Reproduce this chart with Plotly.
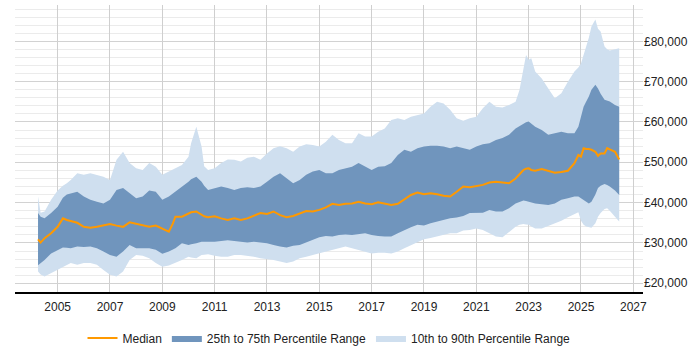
import plotly.graph_objects as go

years = [2004.25, 2004.35, 2004.5, 2004.75, 2005.0, 2005.2, 2005.35, 2005.5, 2005.75,
         2006.0, 2006.25, 2006.5, 2006.75, 2007.0, 2007.25, 2007.5, 2007.75,
         2008.0, 2008.25, 2008.5, 2008.75, 2009.0, 2009.25, 2009.4, 2009.5, 2009.75,
         2010.0, 2010.1, 2010.3, 2010.5, 2010.6, 2010.75,
         2011.0, 2011.25, 2011.5, 2011.75, 2012.0, 2012.25, 2012.5, 2012.75,
         2013.0, 2013.25, 2013.5, 2013.75, 2014.0, 2014.25, 2014.5, 2014.75,
         2015.0, 2015.25, 2015.5, 2015.75, 2016.0, 2016.25, 2016.5, 2016.75,
         2017.0, 2017.25, 2017.5, 2017.75, 2018.0, 2018.25, 2018.5, 2018.75,
         2019.0, 2019.25, 2019.5, 2019.75, 2020.0, 2020.25, 2020.5, 2020.75,
         2021.0, 2021.25, 2021.5, 2021.75, 2022.0, 2022.25, 2022.5, 2022.65,
         2022.8, 2022.9, 2023.0, 2023.1, 2023.25, 2023.5, 2023.75,
         2024.0, 2024.25, 2024.5, 2024.75, 2024.9, 2025.0, 2025.1, 2025.2,
         2025.3, 2025.4, 2025.55, 2025.65, 2025.75, 2025.9, 2026.0, 2026.1,
         2026.3, 2026.46]

p90 = [41.5, 37.5, 37.8, 40.7, 43.0, 44.2, 44.8, 45.6, 47.3,
       46.9, 47.3, 46.9, 46.4, 45.6, 50.6, 52.6, 49.8,
       48.5, 48.1, 49.8, 48.9, 46.9, 47.7, 48.3, 48.5, 49.3,
       51.4, 54.7, 58.8, 53.9, 49.0, 48.1,
       48.5, 49.8, 50.7, 50.6, 50.2, 51.1, 51.4, 50.6,
       52.2, 53.5, 54.0, 53.5, 52.6, 53.9, 54.5, 54.3,
       53.9, 55.1, 56.8, 55.5, 54.7, 54.7, 57.2, 56.4,
       56.4, 57.6, 58.4, 60.5, 60.9, 60.5, 61.3, 61.7,
       62.1, 63.8, 65.0, 64.6, 63.0, 60.9, 60.3, 60.9,
       61.3, 63.4, 65.0, 63.8, 63.6, 64.2, 65.0, 67.9,
       73.7, 76.6, 75.4, 75.8, 72.5, 70.8, 68.3,
       65.9, 67.1, 70.0, 72.5, 73.5, 74.5, 76.5, 78.7,
       80.9, 83.7, 85.4, 83.1, 82.4, 78.7, 78.0, 77.7,
       78.0, 78.3]

p75 = [37.4, 36.5, 36.1, 37.4, 39.0, 41.2, 42.0, 42.3, 42.7,
       41.5, 40.7, 40.2, 39.8, 40.7, 43.1, 43.6, 42.3,
       41.1, 41.5, 43.0, 42.7, 40.7, 41.5, 42.2, 42.7, 44.0,
       45.2, 45.8, 46.4, 45.2, 44.2, 43.1,
       43.6, 44.0, 43.6, 43.1, 43.6, 43.8, 43.6, 44.0,
       45.2, 46.4, 47.3, 46.0, 44.8, 45.6, 46.9, 47.7,
       48.1, 47.3, 47.3, 48.1, 48.5, 48.9, 49.8, 49.0,
       48.1, 48.9, 49.0, 49.8, 51.8, 53.1, 52.6, 53.5,
       53.9, 54.1, 54.1, 53.9, 53.5, 53.9, 53.5, 53.1,
       53.9, 54.5, 54.7, 55.5, 56.0, 56.8, 58.4, 59.0,
       59.6, 59.9, 60.1, 59.6, 58.8, 58.0, 56.8,
       57.2, 57.6, 57.2, 57.2, 58.8, 61.3, 63.8, 65.1,
       66.3, 68.0, 69.2, 68.3, 67.0, 65.5, 65.3, 65.1,
       64.2, 63.8]

median = [30.9, 30.1, 31.2, 32.4, 34.0, 36.1, 35.7, 35.5, 35.0,
          34.0, 33.8, 34.0, 34.3, 34.7, 34.3, 34.0, 35.1,
          34.7, 34.3, 34.0, 34.3, 33.6, 32.8, 34.8, 36.5, 36.5,
          37.4, 37.6, 37.8, 36.9, 36.6, 36.4,
          36.6, 36.1, 35.7, 36.1, 35.7, 36.1, 36.7, 37.4,
          37.2, 37.8, 36.9, 36.4, 36.7, 37.4, 37.9, 37.8,
          38.2, 38.8, 39.7, 39.4, 39.7, 39.8, 40.2, 39.8,
          39.6, 40.1, 39.7, 39.4, 39.7, 40.7, 41.9, 42.5,
          42.1, 42.3, 42.1, 41.7, 41.5, 42.7, 44.0, 43.8,
          44.1, 44.4, 45.0, 45.2, 45.0, 44.8, 46.0, 47.0,
          48.1, 48.4, 48.5, 48.1, 47.9, 48.3, 47.9,
          47.4, 47.6, 47.9, 49.8, 51.8, 51.4, 53.5, 53.3,
          53.3, 53.1, 52.6, 51.6, 52.2, 52.2, 53.5, 53.2,
          52.6, 50.7]

p25 = [24.5, 25.0, 25.8, 27.4, 28.3, 28.9, 28.8, 28.7, 29.1,
       29.0, 29.1, 28.7, 27.9, 27.0, 26.6, 27.9, 29.5,
       28.7, 28.7, 28.7, 28.3, 27.3, 27.9, 28.4, 28.7, 29.9,
       29.5, 29.7, 29.9, 30.3, 30.3, 30.3,
       30.3, 30.5, 30.7, 30.5, 30.3, 30.1, 30.3, 30.1,
       29.9, 29.5, 29.1, 28.9, 29.3, 29.5, 30.2, 30.9,
       31.4, 31.7, 31.6, 32.0, 32.1, 32.0, 32.2, 32.4,
       32.0, 31.7, 31.6, 31.6, 32.4, 33.2, 33.9, 34.5,
       34.3, 34.9, 35.3, 35.7, 36.1, 36.3, 36.7, 37.4,
       37.4, 37.5, 38.2, 37.8, 37.8, 38.6, 39.8, 40.2,
       40.5, 40.4, 40.2, 40.0, 39.8, 39.6, 39.4,
       39.8, 40.7, 41.1, 41.5, 41.5, 41.1, 40.7, 40.2,
       39.8, 40.2, 42.0, 43.6, 44.2, 44.6, 44.4, 44.0,
       43.0, 41.9]

p10 = [22.9, 22.2, 21.7, 22.5, 23.3, 24.0, 24.4, 25.0, 24.6,
       25.0, 25.0, 24.6, 23.3, 22.1, 21.7, 22.9, 25.8,
       27.0, 26.8, 26.2, 25.0, 24.1, 24.4, 24.8, 25.0, 25.8,
       26.6, 26.4, 26.2, 27.0, 27.1, 27.2,
       26.8, 26.6, 26.6, 27.0, 27.0, 26.8, 26.6, 26.2,
       26.0, 25.8, 25.4, 25.0, 25.4, 26.2, 26.6, 27.0,
       27.4, 27.9, 28.3, 28.7, 29.1, 28.7, 28.3, 27.9,
       27.4, 27.6, 27.6, 27.4, 27.9, 28.7, 29.5, 30.3,
       30.9, 31.2, 31.6, 32.0, 32.4, 32.4, 33.1, 33.2,
       33.6, 33.2, 32.4, 31.6, 31.4, 32.8, 34.0, 34.5,
       34.7, 34.6, 34.5, 34.1, 33.6, 33.6, 34.2,
       34.9, 35.5, 36.4, 37.2, 37.6, 35.5, 34.5, 34.1,
       34.0, 33.8, 34.9, 36.5, 37.4, 38.4, 38.6, 38.0,
       36.5, 35.3]

tick_years = [2005, 2007, 2009, 2011, 2013, 2015, 2017, 2019, 2021, 2023, 2025, 2027]

K = 1000
light = "rgb(207,223,239)"
dark = "rgb(112,149,189)"
orange = "rgb(255,153,0)"

fig = go.Figure()
fig.add_trace(go.Scatter(x=years, y=[v * K for v in p10], mode="lines",
                         line=dict(width=0, color=light), showlegend=False,
                         hoverinfo="skip"))
fig.add_trace(go.Scatter(x=years, y=[v * K for v in p90], mode="lines",
                         line=dict(width=0, color=light), fill="tonexty",
                         fillcolor=light, name="10th to 90th Percentile Range",
                         legendrank=3))
fig.add_trace(go.Scatter(x=years, y=[v * K for v in p25], mode="lines",
                         line=dict(width=0, color=dark), showlegend=False,
                         hoverinfo="skip"))
fig.add_trace(go.Scatter(x=years, y=[v * K for v in p75], mode="lines",
                         line=dict(width=0, color=dark), fill="tonexty",
                         fillcolor=dark, name="25th to 75th Percentile Range",
                         legendrank=2))
fig.add_trace(go.Scatter(x=years, y=[v * K for v in median], mode="lines",
                         line=dict(width=2, color=orange), name="Median",
                         legendrank=1))

fig.update_layout(
    width=700, height=350,
    margin=dict(l=15, r=57, t=5, b=58, autoexpand=False),
    paper_bgcolor="white", plot_bgcolor="white",
    font=dict(family="Liberation Sans, Arial, sans-serif", size=12, color="#222"),
    showlegend=True,
    legend=dict(orientation="h", x=0.5, xanchor="center", y=-0.11, yanchor="top",
                font=dict(size=12), itemwidth=30, traceorder="normal"),
    xaxis=dict(range=[2003.37, 2027.37], tickvals=tick_years,
               ticktext=[str(t) for t in tick_years],
               showgrid=True, gridcolor="#cfcfcf", gridwidth=1,
               showline=True, linecolor="black", linewidth=1.5,
               zeroline=False, ticks="outside", ticklen=3, tickcolor="rgba(0,0,0,0)",
               layer="below traces"),
    yaxis=dict(range=[17840, 89000], side="right", dtick=10000, tick0=0,
               tickprefix="£", tickformat=",d",
               showgrid=True, gridcolor="#d2d2d2", gridwidth=1,
               minor=dict(dtick=2000, tick0=0, showgrid=True, gridcolor="#ebebeb"),
               zeroline=False, showline=False, ticks=""),
)

fig.write_html("out.html")
